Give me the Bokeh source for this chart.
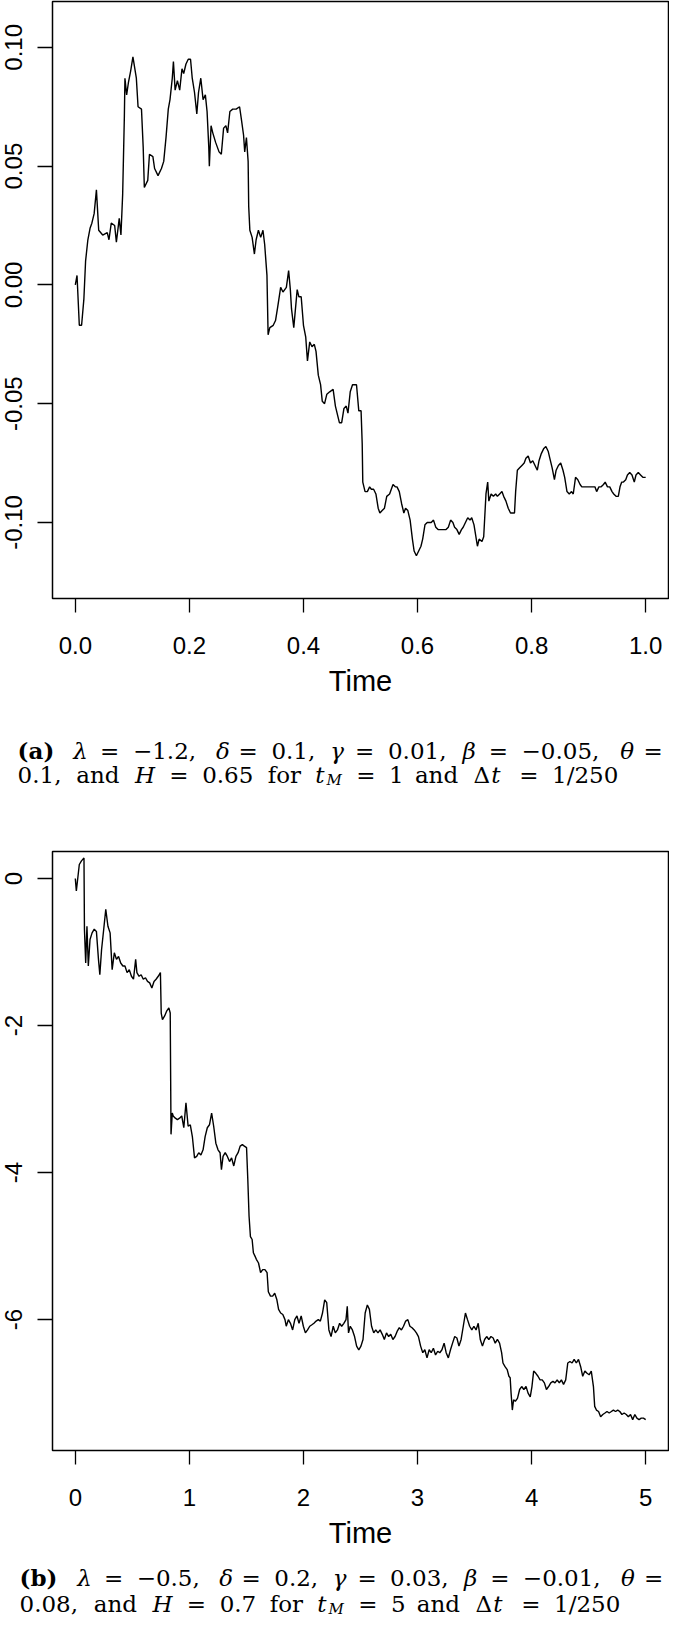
from bokeh.plotting import figure
from bokeh.models import FixedTicker, PrintfTickFormatter, Range1d, Label
from bokeh.layouts import column
from bokeh.embed import file_html
from bokeh.resources import INLINE

# ---------------- data ----------------
# panel (a): (time, value)
trace_a = [
    (0.000, 0.000), (0.003, 0.004), (0.007, -0.017), (0.011, -0.017), (0.015, -0.006),
    (0.018, 0.010), (0.022, 0.019), (0.026, 0.024), (0.029, 0.026), (0.033, 0.030),
    (0.037, 0.040), (0.041, 0.023), (0.048, 0.021), (0.056, 0.022), (0.059, 0.019),
    (0.063, 0.026), (0.069, 0.025), (0.072, 0.018), (0.077, 0.028), (0.080, 0.021),
    (0.083, 0.038), (0.086, 0.071), (0.087, 0.087), (0.090, 0.080), (0.093, 0.085),
    (0.097, 0.090), (0.101, 0.096), (0.107, 0.087), (0.110, 0.075), (0.116, 0.074),
    (0.119, 0.058), (0.121, 0.041), (0.127, 0.044), (0.130, 0.055), (0.136, 0.054),
    (0.139, 0.049), (0.145, 0.046), (0.151, 0.049), (0.155, 0.052), (0.159, 0.062),
    (0.163, 0.074), (0.166, 0.078), (0.170, 0.087), (0.172, 0.094), (0.175, 0.082),
    (0.179, 0.086), (0.183, 0.082), (0.187, 0.091), (0.190, 0.089), (0.194, 0.093),
    (0.198, 0.095), (0.202, 0.095), (0.205, 0.087), (0.209, 0.081), (0.213, 0.072),
    (0.216, 0.081), (0.220, 0.087), (0.224, 0.078), (0.228, 0.080), (0.231, 0.073),
    (0.234, 0.058), (0.235, 0.050), (0.238, 0.067), (0.241, 0.064), (0.246, 0.060),
    (0.252, 0.056), (0.256, 0.055), (0.260, 0.066), (0.264, 0.067), (0.267, 0.064),
    (0.271, 0.073), (0.276, 0.074), (0.282, 0.074), (0.288, 0.075), (0.291, 0.070),
    (0.295, 0.063), (0.297, 0.056), (0.300, 0.062), (0.303, 0.052), (0.304, 0.033),
    (0.306, 0.023), (0.310, 0.020), (0.314, 0.013), (0.317, 0.019), (0.321, 0.023),
    (0.325, 0.020), (0.329, 0.023), (0.332, 0.017), (0.336, 0.004), (0.338, -0.021),
    (0.341, -0.018), (0.347, -0.017), (0.351, -0.015), (0.355, -0.009), (0.360, -0.001),
    (0.364, -0.003), (0.370, -0.001), (0.374, 0.006), (0.377, -0.002), (0.379, -0.010),
    (0.383, -0.018), (0.389, -0.002), (0.392, -0.005), (0.396, -0.005), (0.400, -0.017),
    (0.404, -0.022), (0.407, -0.032), (0.411, -0.024), (0.415, -0.026), (0.419, -0.025),
    (0.422, -0.028), (0.426, -0.038), (0.430, -0.042), (0.433, -0.049), (0.437, -0.050),
    (0.441, -0.046), (0.446, -0.045), (0.452, -0.044), (0.456, -0.051), (0.460, -0.055),
    (0.463, -0.058), (0.467, -0.058), (0.471, -0.052), (0.475, -0.051), (0.478, -0.054),
    (0.482, -0.045), (0.486, -0.042), (0.490, -0.042), (0.493, -0.042), (0.497, -0.053),
    (0.501, -0.053), (0.503, -0.067), (0.504, -0.083), (0.508, -0.087), (0.512, -0.087),
    (0.516, -0.085), (0.519, -0.086), (0.523, -0.086), (0.527, -0.088), (0.531, -0.094),
    (0.534, -0.096), (0.538, -0.095), (0.542, -0.094), (0.546, -0.089), (0.551, -0.088),
    (0.557, -0.084), (0.561, -0.085), (0.564, -0.085), (0.568, -0.087), (0.572, -0.092),
    (0.576, -0.096), (0.579, -0.094), (0.583, -0.095), (0.587, -0.099), (0.591, -0.107),
    (0.594, -0.112), (0.598, -0.114), (0.602, -0.112), (0.606, -0.110), (0.609, -0.107),
    (0.613, -0.101), (0.617, -0.100), (0.620, -0.100), (0.624, -0.100), (0.628, -0.099),
    (0.632, -0.102), (0.636, -0.103), (0.639, -0.103), (0.643, -0.103), (0.647, -0.103),
    (0.650, -0.103), (0.654, -0.102), (0.658, -0.099), (0.662, -0.100), (0.665, -0.102),
    (0.669, -0.103), (0.673, -0.105), (0.677, -0.103), (0.680, -0.102), (0.684, -0.100),
    (0.688, -0.098), (0.692, -0.099), (0.695, -0.098), (0.699, -0.101), (0.703, -0.107),
    (0.705, -0.110), (0.708, -0.107), (0.713, -0.108), (0.716, -0.106), (0.720, -0.088),
    (0.723, -0.083), (0.725, -0.091), (0.729, -0.088), (0.733, -0.089), (0.737, -0.088),
    (0.740, -0.089), (0.744, -0.088), (0.748, -0.087), (0.751, -0.089), (0.755, -0.091),
    (0.759, -0.094), (0.763, -0.096), (0.766, -0.096), (0.770, -0.096), (0.772, -0.087),
    (0.775, -0.078), (0.779, -0.077), (0.783, -0.076), (0.787, -0.075), (0.790, -0.073),
    (0.794, -0.072), (0.798, -0.075), (0.802, -0.074), (0.806, -0.076), (0.810, -0.078),
    (0.813, -0.074), (0.817, -0.071), (0.821, -0.069), (0.825, -0.068), (0.829, -0.070),
    (0.832, -0.073), (0.836, -0.077), (0.840, -0.082), (0.843, -0.078), (0.847, -0.076),
    (0.851, -0.075), (0.855, -0.078), (0.858, -0.081), (0.862, -0.087), (0.866, -0.088),
    (0.870, -0.087), (0.873, -0.088), (0.877, -0.081), (0.881, -0.082), (0.885, -0.084),
    (0.888, -0.085), (0.892, -0.085), (0.896, -0.085), (0.900, -0.085), (0.903, -0.085),
    (0.907, -0.085), (0.911, -0.085), (0.914, -0.087), (0.918, -0.085), (0.922, -0.085),
    (0.926, -0.084), (0.929, -0.083), (0.933, -0.085), (0.937, -0.085), (0.941, -0.087),
    (0.944, -0.088), (0.948, -0.089), (0.952, -0.089), (0.955, -0.085), (0.958, -0.083),
    (0.961, -0.083), (0.965, -0.082), (0.968, -0.080), (0.972, -0.079), (0.976, -0.080),
    (0.980, -0.083), (0.983, -0.080), (0.987, -0.079), (0.991, -0.080), (0.995, -0.081),
    (1.000, -0.081),
]

# panel (b): (time, value)
trace_b = [
    (0.000, 0.00), (0.009, -0.17), (0.035, 0.19), (0.054, 0.24), (0.076, 0.28),
    (0.080, -0.69), (0.091, -1.15), (0.102, -0.65), (0.114, -1.19), (0.129, -0.83),
    (0.147, -0.74), (0.166, -0.69), (0.185, -0.72), (0.203, -1.10), (0.215, -1.31),
    (0.230, -0.97), (0.249, -0.69), (0.267, -0.42), (0.286, -0.65), (0.305, -0.74),
    (0.323, -1.24), (0.342, -1.01), (0.361, -1.10), (0.379, -1.06), (0.398, -1.15),
    (0.417, -1.19), (0.435, -1.19), (0.454, -1.28), (0.473, -1.24), (0.492, -1.33),
    (0.510, -1.37), (0.529, -1.10), (0.540, -1.28), (0.559, -1.33), (0.577, -1.31),
    (0.596, -1.37), (0.615, -1.35), (0.633, -1.40), (0.652, -1.42), (0.671, -1.49),
    (0.690, -1.40), (0.708, -1.37), (0.727, -1.33), (0.746, -1.28), (0.753, -1.83),
    (0.764, -1.92), (0.783, -1.87), (0.802, -1.80), (0.820, -1.76), (0.832, -1.83),
    (0.839, -3.48), (0.850, -3.19), (0.858, -3.23), (0.877, -3.26), (0.895, -3.28),
    (0.914, -3.26), (0.933, -3.23), (0.951, -3.39), (0.970, -3.05), (0.989, -3.37),
    (1.008, -3.35), (1.026, -3.51), (1.045, -3.80), (1.064, -3.78), (1.082, -3.73),
    (1.101, -3.76), (1.120, -3.69), (1.138, -3.51), (1.157, -3.39), (1.176, -3.35),
    (1.195, -3.19), (1.213, -3.37), (1.232, -3.60), (1.251, -3.69), (1.269, -3.73),
    (1.281, -3.96), (1.295, -3.78), (1.314, -3.73), (1.333, -3.78), (1.352, -3.85),
    (1.370, -3.80), (1.389, -3.91), (1.408, -3.78), (1.427, -3.73), (1.445, -3.64),
    (1.464, -3.62), (1.482, -3.64), (1.501, -3.66), (1.512, -4.09), (1.523, -4.59),
    (1.535, -4.87), (1.550, -4.91), (1.561, -5.09), (1.576, -5.14), (1.587, -5.18),
    (1.606, -5.23), (1.624, -5.36), (1.643, -5.32), (1.662, -5.32), (1.681, -5.36),
    (1.692, -5.62), (1.711, -5.68), (1.730, -5.68), (1.748, -5.64), (1.767, -5.73),
    (1.782, -5.86), (1.800, -5.91), (1.819, -5.93), (1.838, -6.00), (1.849, -6.09),
    (1.868, -6.00), (1.886, -6.05), (1.905, -6.14), (1.924, -6.00), (1.943, -5.95),
    (1.961, -6.05), (1.980, -5.95), (1.999, -6.09), (2.017, -6.18), (2.036, -6.14),
    (2.055, -6.09), (2.074, -6.07), (2.092, -6.05), (2.111, -6.02), (2.130, -6.00),
    (2.148, -6.02), (2.167, -5.91), (2.186, -5.73), (2.204, -5.77), (2.223, -6.14),
    (2.242, -6.23), (2.261, -6.09), (2.279, -6.18), (2.298, -6.14), (2.317, -6.05),
    (2.335, -6.09), (2.354, -6.05), (2.373, -6.00), (2.384, -5.82), (2.395, -6.18),
    (2.410, -6.09), (2.429, -6.14), (2.448, -6.23), (2.466, -6.36), (2.485, -6.41),
    (2.504, -6.36), (2.522, -6.27), (2.541, -5.91), (2.560, -5.80), (2.578, -5.86),
    (2.597, -6.09), (2.616, -6.18), (2.634, -6.14), (2.653, -6.18), (2.672, -6.14),
    (2.691, -6.20), (2.709, -6.27), (2.728, -6.18), (2.747, -6.23), (2.765, -6.20),
    (2.784, -6.27), (2.803, -6.23), (2.821, -6.16), (2.840, -6.11), (2.859, -6.14),
    (2.877, -6.09), (2.896, -6.02), (2.915, -6.00), (2.933, -6.09), (2.952, -6.11),
    (2.971, -6.14), (2.990, -6.18), (3.008, -6.23), (3.027, -6.36), (3.046, -6.45),
    (3.064, -6.41), (3.083, -6.52), (3.102, -6.41), (3.120, -6.45), (3.139, -6.39),
    (3.158, -6.48), (3.177, -6.43), (3.195, -6.45), (3.214, -6.41), (3.233, -6.32),
    (3.251, -6.45), (3.270, -6.52), (3.289, -6.41), (3.307, -6.32), (3.326, -6.23),
    (3.345, -6.25), (3.363, -6.36), (3.382, -6.27), (3.401, -6.09), (3.420, -5.91),
    (3.438, -6.00), (3.457, -6.09), (3.476, -6.14), (3.494, -6.09), (3.513, -6.14),
    (3.532, -6.05), (3.550, -6.27), (3.569, -6.36), (3.588, -6.27), (3.606, -6.23),
    (3.625, -6.27), (3.644, -6.23), (3.663, -6.25), (3.681, -6.32), (3.700, -6.27),
    (3.719, -6.32), (3.737, -6.45), (3.749, -6.59), (3.767, -6.64), (3.786, -6.68),
    (3.801, -6.77), (3.812, -6.79), (3.820, -7.00), (3.831, -7.23), (3.842, -7.09),
    (3.857, -7.11), (3.876, -7.07), (3.895, -6.95), (3.913, -6.91), (3.932, -6.95),
    (3.951, -6.91), (3.969, -7.00), (3.988, -7.05), (4.003, -6.91), (4.018, -6.70),
    (4.037, -6.73), (4.056, -6.77), (4.074, -6.82), (4.093, -6.82), (4.112, -6.86),
    (4.130, -6.95), (4.149, -6.91), (4.168, -6.86), (4.187, -6.84), (4.205, -6.86),
    (4.224, -6.82), (4.243, -6.86), (4.261, -6.82), (4.280, -6.88), (4.299, -6.82),
    (4.317, -6.59), (4.336, -6.57), (4.355, -6.59), (4.373, -6.54), (4.392, -6.59),
    (4.411, -6.54), (4.430, -6.64), (4.448, -6.77), (4.467, -6.70), (4.486, -6.73),
    (4.504, -6.75), (4.523, -6.70), (4.542, -6.91), (4.553, -7.18), (4.568, -7.23),
    (4.587, -7.25), (4.605, -7.32), (4.624, -7.29), (4.643, -7.27), (4.661, -7.25),
    (4.680, -7.27), (4.699, -7.25), (4.717, -7.23), (4.736, -7.25), (4.755, -7.23),
    (4.773, -7.25), (4.792, -7.29), (4.811, -7.27), (4.830, -7.29), (4.848, -7.32),
    (4.867, -7.29), (4.886, -7.36), (4.905, -7.29), (4.923, -7.34), (4.942, -7.36),
    (4.961, -7.34), (4.980, -7.34), (5.000, -7.36),
]

xticks_a = [0.0, 0.2, 0.4, 0.6, 0.8, 1.0]
yticks_a = [-0.10, -0.05, 0.0, 0.05, 0.10]
xticks_b = [0, 1, 2, 3, 4, 5]
yticks_b = [-6, -4, -2, 0]
xlabel = "Time"

# caption tokens: (text, offset in em, style, subscript)
caption_a1 = [("(a)", 0.0, "bold", False), ("λ", 1.786, "italic", False), ("=", 2.647, "normal", False),
              ("−1.2,", 3.703, "normal", False), ("δ", 6.37, "italic", False), ("=", 7.092, "normal", False),
              ("0.1,", 8.148, "normal", False), ("γ", 10.037, "italic", False), ("=", 10.833, "normal", False),
              ("0.01,", 11.889, "normal", False), ("β", 14.278, "italic", False), ("=", 15.122, "normal", False),
              ("−0.05,", 16.178, "normal", False), ("θ", 19.345, "italic", False), ("=", 20.092, "normal", False)]
caption_a2 = [("0.1,", 0.0, "normal", False), ("and", 1.889, "normal", False), ("H", 3.778, "italic", False),
              ("=", 4.887, "normal", False), ("0.65", 5.943, "normal", False), ("for", 8.054, "normal", False),
              ("t", 9.585, "italic", False), ("M", 9.946, "italic", True), ("=", 10.904, "normal", False),
              ("1", 11.96, "normal", False), ("and", 12.793, "normal", False), ("Δ", 14.682, "normal", False),
              ("t", 15.25, "italic", False), ("=", 16.154, "normal", False), ("1/250", 17.21, "normal", False)]
caption_b1 = [("(b)", 0.0, "bold", False), ("λ", 1.866, "italic", False), ("=", 2.727, "normal", False),
              ("−0.5,", 3.783, "normal", False), ("δ", 6.45, "italic", False), ("=", 7.172, "normal", False),
              ("0.2,", 8.228, "normal", False), ("γ", 10.117, "italic", False), ("=", 10.913, "normal", False),
              ("0.03,", 11.969, "normal", False), ("β", 14.358, "italic", False), ("=", 15.202, "normal", False),
              ("−0.01,", 16.258, "normal", False), ("θ", 19.425, "italic", False), ("=", 20.172, "normal", False)]
caption_b2 = [("0.08,", 0.0, "normal", False), ("and", 2.389, "normal", False), ("H", 4.278, "italic", False),
              ("=", 5.387, "normal", False), ("0.7", 6.443, "normal", False), ("for", 8.054, "normal", False),
              ("t", 9.585, "italic", False), ("M", 9.946, "italic", True), ("=", 10.904, "normal", False),
              ("5", 11.96, "normal", False), ("and", 12.793, "normal", False), ("Δ", 14.682, "normal", False),
              ("t", 15.25, "italic", False), ("=", 16.154, "normal", False), ("1/250", 17.21, "normal", False)]

# ---------------- layout ----------------
SX = 0.9766
FIG_W = 669
LEFT = 52
RIGHT = 1
SANS = "Liberation Sans"
SERIF = "DejaVu Serif"


def make_panel(trace, xr, yr, xt, yt, xfmt, yfmt, height, top, bottom):
    p = figure(width=FIG_W, height=height, x_range=Range1d(*xr), y_range=Range1d(*yr),
               output_backend="svg", toolbar_location=None,
               min_border_left=LEFT, min_border_right=RIGHT, min_border_top=top,
               min_border_bottom=bottom)
    p.line([q[0] for q in trace], [q[1] for q in trace], line_color="black", line_width=1.4)
    p.grid.visible = False
    p.outline_line_color = "black"
    p.outline_line_width = 1.5
    p.outline_line_alpha = 1.0
    p.background_fill_color = "white"
    p.border_fill_color = "white"

    for ax, ticks, fmt in ((p.xaxis[0], xt, xfmt), (p.yaxis[0], yt, yfmt)):
        ax.ticker = FixedTicker(ticks=ticks, minor_ticks=[])
        ax.formatter = PrintfTickFormatter(format=fmt)
        ax.axis_line_color = None
        ax.major_tick_in = 0
        ax.major_tick_line_color = "black"
        ax.major_tick_line_width = 1.3
        ax.minor_tick_line_color = None
        ax.major_label_text_font = SANS
        ax.major_label_text_font_size = "24px"
        ax.major_label_text_color = "black"
    p.xaxis.major_tick_out = 14
    p.xaxis.major_label_standoff = 24
    p.yaxis.major_tick_out = 15
    p.yaxis.major_label_standoff = 15
    p.yaxis.major_label_orientation = "vertical"
    p.xaxis.axis_label = xlabel
    p.xaxis.axis_label_text_font = SANS
    p.xaxis.axis_label_text_font_size = "29px"
    p.xaxis.axis_label_text_font_style = "normal"
    p.xaxis.axis_label_text_color = "black"
    p.xaxis.axis_label_standoff = 8
    return p


def make_caption(height, lines):
    c = figure(width=FIG_W, height=height, x_range=Range1d(0, FIG_W),
               y_range=Range1d(height, 0), output_backend="svg", toolbar_location=None,
               x_axis_type=None, y_axis_type=None, min_border_left=0,
               min_border_right=0, min_border_top=0, min_border_bottom=0)
    c.grid.visible = False
    c.outline_line_color = None
    c.background_fill_color = "white"
    c.border_fill_color = "white"
    for x0, scale, base, tokens in lines:
        for txt, em, style, sub in tokens:
            c.add_layout(Label(x=(x0 + scale * em) * SX, y=base + (5 if sub else 0), text=txt,
                               text_font=SERIF, text_font_size="15px" if sub else "23px",
                               text_font_style=style, text_color="black",
                               text_align="left", text_baseline="alphabetic"))
    return c


pa = make_panel(trace_a, (-0.04, 1.04), (-0.132, 0.1193), xticks_a, yticks_a, "%.1f", "%.2f",
                height=700, top=1, bottom=102)
cap_a = make_caption(92, [(17.5, 31.9, 50, caption_a1), (17.5, 31.8, 74, caption_a2)])

pb = make_panel(trace_b, (-0.2, 5.2), (-7.78, 0.367), xticks_b, yticks_b, "%d", "%d",
                height=760, top=59, bottom=102)
cap_b = make_caption(70, [(19.5, 31.7, 25, caption_b1), (19.5, 31.8, 51, caption_b2)])

layout = column(pa, column(cap_a, spacing=0), pb, column(cap_b, spacing=0), spacing=0)
open("out.html", "w").write(file_html(layout, INLINE))
